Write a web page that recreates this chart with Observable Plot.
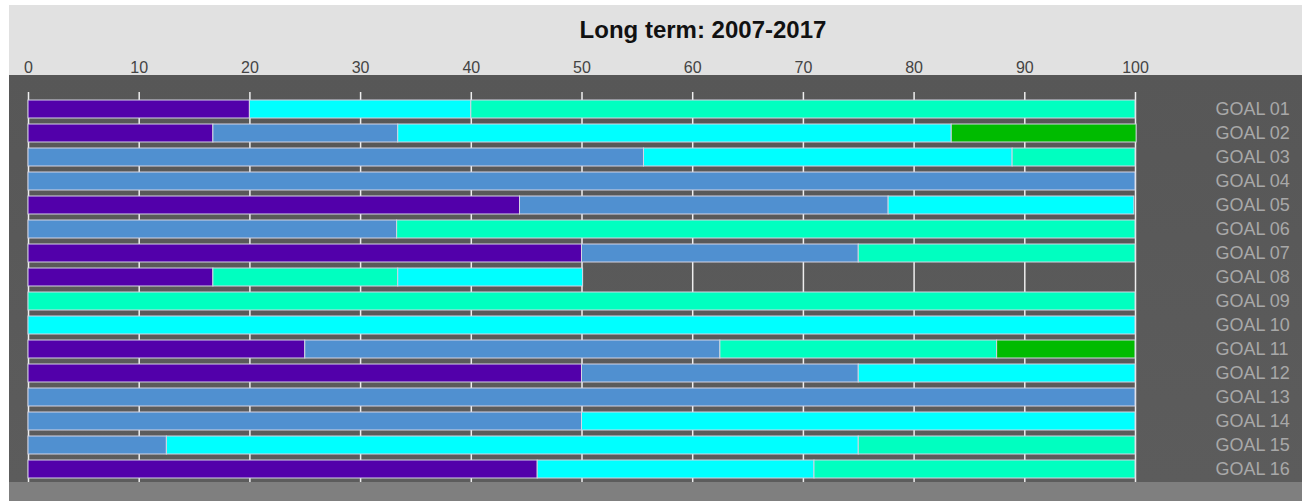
<!DOCTYPE html>
<html>
<head>
<meta charset="utf-8">
<script src="https://cdn.jsdelivr.net/npm/d3@7"></script>
<script src="https://cdn.jsdelivr.net/npm/@observablehq/plot@0.6"></script>
<style>
  html, body { margin: 0; padding: 0; background: #ffffff; }
  #wrap { position: absolute; left: 9px; top: 5px; width: 1293px; background: #e1e1e1; }
  #title { height: 40px; padding-left: 95px; text-align: center;
           font: bold 24px/50px "Liberation Sans", Arial, sans-serif; color: #111; overflow: visible; }
  #footer { height: 19px; background: #7f7f7f; }
  #chart svg { display: block; }
</style>
</head>
<body>
<div id="wrap">
  <div id="title">Long term: 2007-2017</div>
  <div id="chart"></div>
  <div id="footer"></div>
</div>
<script>
const goals = ["GOAL 01","GOAL 02","GOAL 03","GOAL 04","GOAL 05","GOAL 06","GOAL 07","GOAL 08",
               "GOAL 09","GOAL 10","GOAL 11","GOAL 12","GOAL 13","GOAL 14","GOAL 15","GOAL 16"];
const categories = ["Significant movement away","Moderate movement away","Moderate progress","Significant progress","Very significant progress"];
const colors = ["#5200aa","#5090d0","#00ffff","#00ffc0","#00bb00"];
// share of indicators (%) per goal, one array per category
const purple = [20, 16.7, 0, 0, 44.4, 0, 50, 16.7, 0, 0, 25, 50, 0, 0, 0, 46];
const blue   = [0, 16.7, 55.6, 100, 33.3, 33.3, 25, 0, 0, 0, 37.5, 25, 100, 50, 12.5, 0];
const cyan   = [20, 50, 33.3, 0, 22.2, 0, 0, 16.7, 0, 100, 0, 25, 0, 50, 62.5, 25];
const aqua   = [60, 0, 11.1, 0, 0, 66.7, 25, 16.7, 100, 0, 25, 0, 0, 0, 25, 29];
const green  = [0, 16.7, 0, 0, 0, 0, 0, 0, 0, 0, 12.5, 0, 0, 0, 0, 0];
// stacking order of the categories within each bar (GOAL 08 differs)
const defaultOrder = [0, 1, 2, 3, 4];
const goal08Order  = [0, 3, 2, 1, 4];
const xTicks = [0, 10, 20, 30, 40, 50, 60, 70, 80, 90, 100];

const series = [purple, blue, cyan, aqua, green];
const table = goals.flatMap((g, i) =>
  (g === "GOAL 08" ? goal08Order : defaultOrder)
    .map(j => ({goal: g, category: categories[j], value: series[j][i]}))
).filter(d => d.value > 0);

const chart = Plot.plot({
  width: 1293,
  height: 437,
  marginTop: 30,
  marginBottom: 0,
  marginLeft: 19,
  marginRight: 167,
  style: {
    background: "linear-gradient(to bottom, #e1e1e1 0px, #e1e1e1 30px, #575757 30px, #5c5c5c 100%)",
    fontFamily: "'Liberation Sans', Arial, sans-serif"
  },
  x: {domain: [0, 100], axis: null, label: null},
  y: {domain: goals, axis: null, label: null, paddingInner: 0.27, paddingOuter: 0.1, insetTop: 20},
  color: {domain: categories, range: colors},
  marks: [
    Plot.gridX(xTicks, {stroke: "#eeeeee", strokeOpacity: 1, strokeWidth: 1.5, insetTop: 17}),
    Plot.barX(table, Plot.stackX({
      x: "value", y: "goal", fill: "category", order: null,
      stroke: "#d4d4e4", strokeWidth: 1
    })),
    Plot.axisX({anchor: "top", ticks: xTicks, tickSize: 0, tickPadding: 3, label: null,
                fontSize: 16, fill: "#444"}),
    Plot.axisY({anchor: "right", tickSize: 0, tickPadding: 80, label: null, fontSize: 18, fill: "#a8a8a8"})
  ]
});
document.getElementById("chart").append(chart);
</script>
</body>
</html>
